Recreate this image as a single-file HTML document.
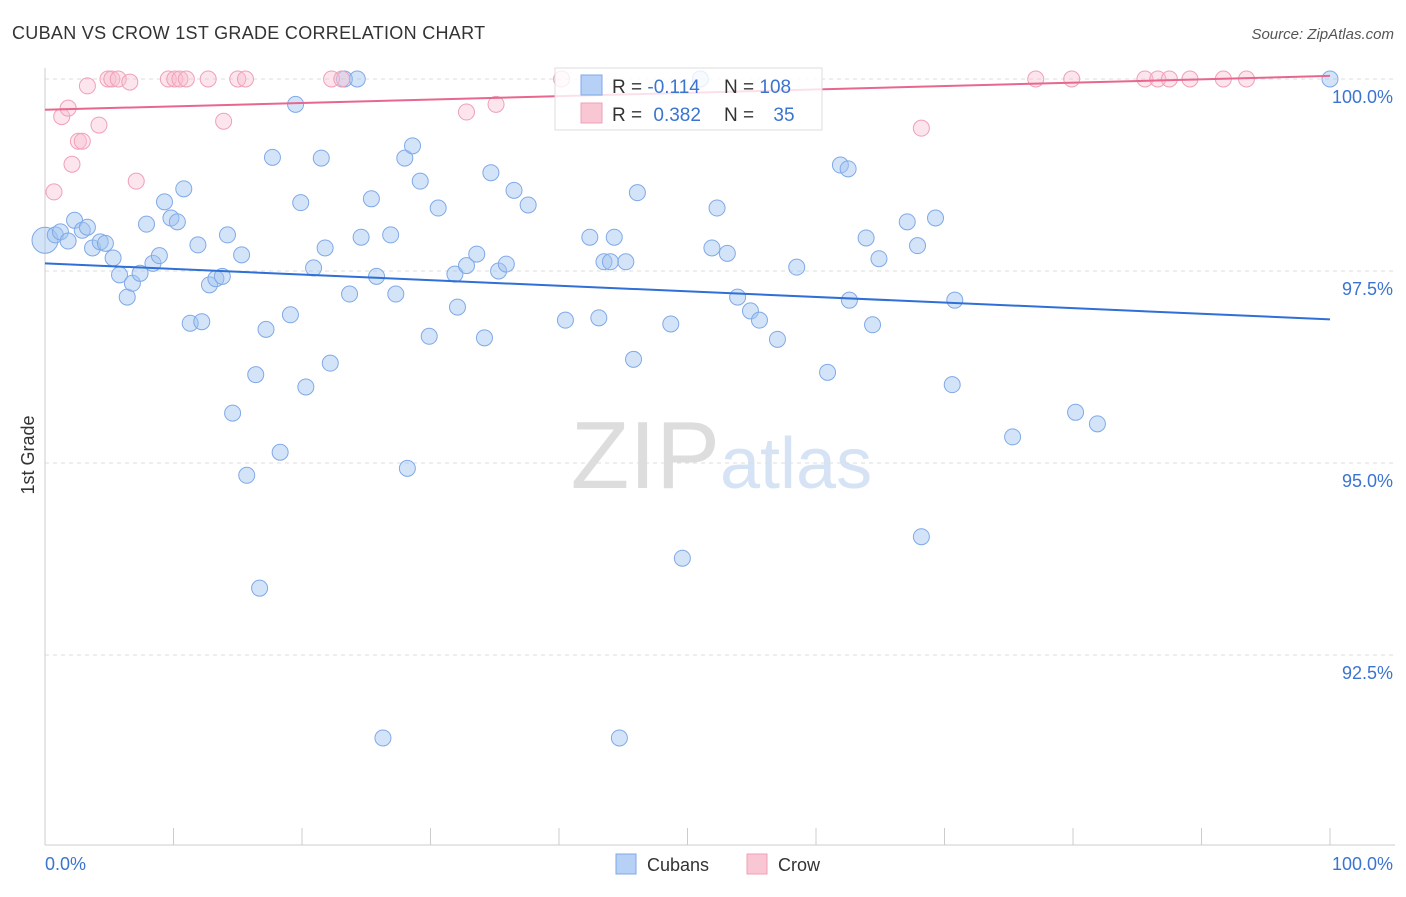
<!DOCTYPE html>
<html><head><meta charset="utf-8"><style>
body{margin:0;background:#fff;font-family:"Liberation Sans",sans-serif;}
svg text{font-family:"Liberation Sans",sans-serif;}
</style></head><body>
<svg id="chart" width="1406" height="892" xmlns="http://www.w3.org/2000/svg">
<text x="12" y="39" font-size="18" fill="#333" letter-spacing="0.3">CUBAN VS CROW 1ST GRADE CORRELATION CHART</text>
<text x="1394" y="39" font-size="15" fill="#555" font-style="italic" text-anchor="end">Source: ZipAtlas.com</text>
<text x="720" y="488" font-size="96" fill="#ddd" text-anchor="end" font-family="Liberation Serif">ZIP</text>
<text x="720" y="488" font-size="72" fill="#d6e3f5">atlas</text>
<text transform="translate(34,455) rotate(-90)" font-size="18" fill="#333" text-anchor="middle">1st Grade</text>
<g id="grid"></g><g id="axes"></g><g id="pts"></g><g id="lines"></g>
<g>
<rect x="555" y="68" width="267" height="62" fill="rgba(255,255,255,0.8)" stroke="#ddd"/>
<rect x="581" y="75" width="21" height="20" fill="#b6d1f5" stroke="#7fa9e8"/>
<rect x="581" y="103" width="21" height="20" fill="#f9c6d4" stroke="#f0a0b8"/>
<text x="612" y="93" font-size="19" fill="#333">R = <tspan fill="#3a74d0">-0.114</tspan></text>
<text x="724" y="93" font-size="19" fill="#333">N = <tspan fill="#3a74d0">108</tspan></text>
<text x="612" y="121" font-size="19" fill="#333">R = <tspan fill="#3a74d0" dx="6">0.382</tspan></text>
<text x="724" y="121" font-size="19" fill="#333">N = <tspan fill="#3a74d0" dx="14">35</tspan></text>
</g>
<g>
<rect x="616" y="854" width="20" height="20" fill="#b6d1f5" stroke="#7fa9e8"/>
<text x="647" y="871" font-size="18" fill="#333">Cubans</text>
<rect x="747" y="854" width="20" height="20" fill="#f9c6d4" stroke="#f0a0b8"/>
<text x="778" y="871" font-size="18" fill="#333">Crow</text>
</g>
</svg>
<script>
const blueX=[0,0.8,1.2,1.8,2.3,2.9,3.3,3.7,4.3,4.7,5.3,5.8,6.4,6.8,7.4,7.9,8.4,8.9,9.3,9.8,10.3,10.8,11.3,11.9,12.2,12.8,13.3,13.8,14.2,14.6,15.3,15.7,16.4,16.7,17.2,17.7,18.3,19.1,19.5,19.9,20.3,20.9,21.5,21.8,22.2,23.3,23.7,24.3,24.6,25.4,25.8,26.3,26.9,27.3,28.0,28.2,28.6,29.2,29.9,30.6,31.9,32.1,32.8,33.6,34.2,34.7,35.3,35.9,36.5,37.6,40.5,42.4,43.1,43.5,44.0,44.3,44.7,45.2,45.8,46.1,48.7,49.6,51.0,51.9,52.3,53.1,53.9,54.9,55.6,57.0,58.5,60.9,61.9,62.5,62.6,63.9,64.4,64.9,67.1,67.9,68.2,69.3,70.6,70.8,75.3,80.2,81.9,100];
const blueY=[97.90,97.97,98.01,97.89,98.16,98.03,98.07,97.80,97.88,97.86,97.67,97.45,97.16,97.34,97.47,98.11,97.60,97.70,98.40,98.19,98.14,98.57,96.82,97.84,96.84,97.32,97.40,97.43,97.97,95.65,97.71,94.84,96.15,93.37,96.74,98.98,95.14,96.93,99.67,98.39,95.99,97.54,98.97,97.80,96.30,100,97.20,100,97.94,98.44,97.43,91.42,97.97,97.20,98.97,94.93,99.13,98.67,96.65,98.32,97.46,97.03,97.57,97.72,96.63,98.78,97.50,97.59,98.55,98.36,96.86,97.94,96.89,97.62,97.62,97.94,91.42,97.62,96.35,98.52,96.81,93.76,100,97.80,98.32,97.73,97.16,96.98,96.86,96.61,97.55,96.18,98.88,98.83,97.12,97.93,96.80,97.66,98.14,97.83,94.04,98.19,96.02,97.12,95.34,95.66,95.51,100];
const pinkX=[0.7,1.3,1.8,2.1,2.6,2.9,3.3,4.2,4.9,5.2,5.7,6.6,7.1,9.6,10.1,10.5,11.0,12.7,13.9,15.0,15.6,22.3,23.1,32.8,35.1,40.2,68.2,77.1,79.9,85.6,86.6,87.5,89.1,91.7,93.5];
const pinkY=[98.53,99.51,99.62,98.89,99.19,99.19,99.91,99.40,100,100,100,99.96,98.67,100,100,100,100,100,99.45,100,100,100,100,99.57,99.67,100,99.36,100,100,100,100,100,100,100,100];
const blueTrend=[97.60,96.87];
const pinkTrend=[99.60,100.04];
const yTicks=[100,97.5,95,92.5];
const yTickLabels=["100.0%","97.5%","95.0%","92.5%"];
const xTicks=[0,10,20,30,40,50,60,70,80,90,100];
const NS="http://www.w3.org/2000/svg";
const sx=v=>45+v*12.85, sy=v=>79+(100-v)*76.8;
function mk(tag,attrs,parent){const e=document.createElementNS(NS,tag);for(const k in attrs)e.setAttribute(k,attrs[k]);document.getElementById(parent).appendChild(e);return e;}
yTicks.forEach((t,i)=>{
 const g=mk('line',{x1:45,x2:1395,y1:sy(t),y2:sy(t),stroke:'#ddd','stroke-dasharray':'4,4'},'grid');
 
 
 const l=mk('text',{x:1393,y:sy(t)+24,'font-size':18,fill:'#3a74d0','text-anchor':'end'},'grid');
 l.textContent=yTickLabels[i];
 
 
});
const ax=mk('line',{x1:45,x2:45,y1:68,y2:845,stroke:'#ccc'},'axes');


const bx=mk('line',{x1:45,x2:1395,y1:845,y2:845,stroke:'#ccc'},'axes');


xTicks.forEach(t=>{
 const k=mk('line',{x1:sx(t),x2:sx(t),y1:828,y2:845,stroke:'#ccc'},'axes');
 
 
});
[[0,'0.0%','start',45],[100,'100.0%','end',1393]].forEach(a=>{
 const t=mk('text',{x:a[3],y:870,'font-size':18,fill:'#3a74d0','text-anchor':a[2]},'axes');
 t.textContent=a[1];
 
 
});
blueX.forEach((x,i)=>{
 const c=mk('circle',{cx:sx(x),cy:sy(blueY[i]),r:i==0?13:8,fill:'rgba(160,196,240,0.45)',stroke:'#7fa9e8','stroke-width':1},'pts');
 
 
});
pinkX.forEach((x,i)=>{
 const c=mk('circle',{cx:sx(x),cy:sy(pinkY[i]),r:8,fill:'rgba(248,190,208,0.4)',stroke:'#f0a0b8','stroke-width':1},'pts');
 
 
});
const bl=mk('line',{x1:sx(0),x2:sx(100),y1:sy(blueTrend[0]),y2:sy(blueTrend[1]),stroke:'#2f6fd6','stroke-width':2},'lines');


const pl=mk('line',{x1:sx(0),x2:sx(100),y1:sy(pinkTrend[0]),y2:sy(pinkTrend[1]),stroke:'#e8678f','stroke-width':2},'lines');


</script>
</body></html>
